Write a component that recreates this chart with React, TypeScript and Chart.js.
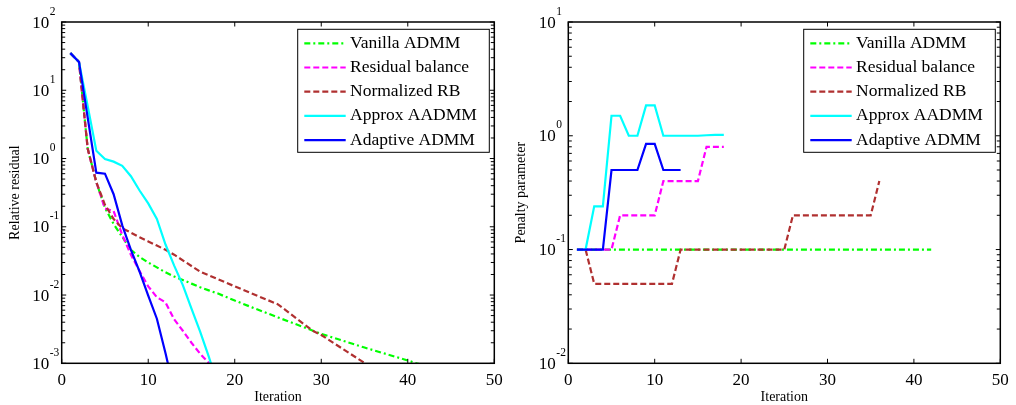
import React, { useEffect, useRef } from 'react';
import { Chart, registerables } from 'chart.js';

Chart.register(...registerables);

// ---------- labels & ticks ----------
const seriesLabels = ['Vanilla ADMM', 'Residual balance', 'Normalized RB', 'Approx AADMM', 'Adaptive ADMM'];
const iterationTicks = [0, 10, 20, 30, 40, 50];

// ---------- left panel: relative residual ----------
const vanillaResIter = [1, 2, 3, 4, 5, 6, 7, 8, 9, 10, 11, 12, 13, 14, 15, 16, 17, 18, 20, 22, 25, 30, 35, 40, 41, 42];
const vanillaResVal = [35, 26, 1.4, 0.45, 0.19, 0.11, 0.071, 0.046, 0.036, 0.03, 0.0254, 0.0215, 0.0187, 0.0166, 0.0147, 0.013, 0.0117, 0.0106, 0.0083, 0.0066, 0.0047, 0.0027, 0.0017, 0.0011, 0.001, 0.00092];

const rbResIter = [1, 2, 3, 4, 5, 6, 7, 8, 9, 10, 11, 12, 13, 14, 15, 16, 17, 18];
const rbResVal = [35, 26, 1.4, 0.45, 0.185, 0.17, 0.076, 0.039, 0.0224, 0.0134, 0.0093, 0.0078, 0.0044, 0.003, 0.002, 0.00138, 0.00101, 0.0007];

const nrbResIter = [1, 2, 3, 4, 5, 6, 7, 8, 9, 10, 11, 12, 13, 16, 20, 23, 25, 29, 30, 35, 36];
const nrbResVal = [35, 26, 1.4, 0.45, 0.21, 0.13, 0.095, 0.082, 0.07, 0.061, 0.053, 0.046, 0.039, 0.022, 0.0134, 0.0093, 0.0073, 0.003, 0.0026, 0.00101, 0.0007];

const approxResIter = [1, 2, 3, 4, 5, 6, 7, 8, 9, 10, 11, 12, 13, 14, 15, 16, 17, 18];
const approxResVal = [35, 26, 5.9, 1.3, 0.98, 0.9, 0.78, 0.55, 0.34, 0.22, 0.13, 0.055, 0.027, 0.014, 0.0063, 0.0029, 0.00125, 0.0005];

const adaptiveResIter = [1, 2, 3, 4, 5, 6, 7, 8, 9, 10, 11, 12, 13];
const adaptiveResVal = [35, 26, 4.0, 0.62, 0.6, 0.3, 0.105, 0.046, 0.022, 0.0098, 0.0045, 0.0014, 0.0004];

// ---------- right panel: penalty parameter ----------
const vanillaPenIter = [1, 42];
const vanillaPenVal = [0.1, 0.1];

const rbPenIter = [1, 5, 6, 10, 11, 15, 16, 18];
const rbPenVal = [0.1, 0.1, 0.2, 0.2, 0.4, 0.4, 0.8, 0.8];

const nrbPenIter = [1, 2, 3, 12, 13, 25, 26, 35, 36];
const nrbPenVal = [0.1, 0.1, 0.05, 0.05, 0.1, 0.1, 0.2, 0.2, 0.4];

const approxPenIter = [1, 2, 3, 4, 5, 6, 7, 8, 9, 10, 11, 15, 16, 17, 18];
const approxPenVal = [0.1, 0.1, 0.24, 0.24, 1.5, 1.5, 1.0, 1.0, 1.85, 1.85, 1.0, 1.0, 1.01, 1.02, 1.02];

const adaptivePenIter = [1, 4, 5, 8, 9, 10, 11, 13];
const adaptivePenVal = [0.1, 0.1, 0.5, 0.5, 0.85, 0.85, 0.5, 0.5];

// ---------- styles ----------
const seriesColors = ['#00ff00', '#ff00ff', '#b03030', '#00ffff', '#0000ff'];
const seriesDashes: number[][] = [[6, 3, 2, 3], [6, 3], [6, 3], [], []];
const seriesDrawOrder = [5, 4, 3, 2, 1];
const FONT = '"Liberation Serif", "Times New Roman", serif';

function buildDatasets(iters: number[][], vals: number[][]) {
  return seriesLabels.map((label, i) => ({
    label,
    data: iters[i].map((x, j) => ({ x, y: vals[i][j] })),
    borderColor: seriesColors[i],
    backgroundColor: seriesColors[i],
    borderDash: seriesDashes[i],
    borderWidth: 2.2,
    borderCapStyle: 'butt',
    borderJoinStyle: 'miter',
    pointRadius: 0,
    pointHoverRadius: 0,
    fill: false,
    tension: 0,
    order: seriesDrawOrder[i],
    clip: 0,
  }));
}

const TICK_LEN = 4.5;

const matlabAxesPlugin = {
  id: 'matlabAxes',
  afterDatasetsDraw(chart: any) {
    const { ctx, chartArea: a, scales } = chart;
    const xs = scales.x;
    const ys = scales.y;
    ctx.save();
    // ticks
    ctx.strokeStyle = '#000';
    ctx.lineWidth = 1;
    ctx.beginPath();
    for (const v of iterationTicks) {
      const px = xs.getPixelForValue(v);
      ctx.moveTo(px, a.bottom);
      ctx.lineTo(px, a.bottom - TICK_LEN);
      ctx.moveTo(px, a.top);
      ctx.lineTo(px, a.top + TICK_LEN);
    }
    const e0 = Math.round(Math.log10(ys.min));
    const e1 = Math.round(Math.log10(ys.max));
    for (let e = e0; e <= e1; e++) {
      for (let m = 1; m <= 9; m++) {
        if (e === e1 && m > 1) break;
        const py = ys.getPixelForValue(m * Math.pow(10, e));
        const len = m === 1 ? TICK_LEN : TICK_LEN - 1;
        ctx.moveTo(a.left, py);
        ctx.lineTo(a.left + len, py);
        ctx.moveTo(a.right, py);
        ctx.lineTo(a.right - len, py);
      }
    }
    ctx.stroke();
    // box
    ctx.lineWidth = 1.5;
    ctx.strokeRect(a.left, a.top, a.right - a.left, a.bottom - a.top);
    // y labels with superscripts
    ctx.fillStyle = '#000';
    for (let e = e0; e <= e1; e++) {
      const py = ys.getPixelForValue(Math.pow(10, e));
      ctx.font = `17px ${FONT}`;
      ctx.textAlign = 'right';
      ctx.textBaseline = 'alphabetic';
      ctx.fillText('10', a.left - 12.5, py + 5.7);
      ctx.font = `11.5px ${FONT}`;
      ctx.textAlign = 'left';
      ctx.fillText(String(e), a.left - 12, py - 7.3);
    }
    // legend
    const bw = 191.6;
    const bh = 123;
    const bx = a.right - 5 - bw;
    const by = a.top + 7.3;
    ctx.fillStyle = '#fff';
    ctx.fillRect(bx, by, bw, bh);
    ctx.strokeStyle = '#000';
    ctx.lineWidth = 1;
    ctx.strokeRect(bx, by, bw, bh);
    chart.data.datasets.forEach((ds: any, i: number) => {
      const ry = by + 14 + i * 24.2;
      ctx.save();
      ctx.strokeStyle = ds.borderColor;
      ctx.lineWidth = ds.borderWidth;
      ctx.setLineDash(ds.borderDash || []);
      ctx.beginPath();
      ctx.moveTo(bx + 6.6, ry);
      ctx.lineTo(bx + 48, ry);
      ctx.stroke();
      ctx.restore();
      ctx.fillStyle = '#000';
      ctx.font = `17.5px ${FONT}`;
      ctx.textAlign = 'left';
      ctx.textBaseline = 'middle';
      ctx.fillText(ds.label, bx + 52.3, ry);
    });
    ctx.restore();
  },
};

type PanelProps = {
  iters: number[][];
  vals: number[][];
  yMin: number;
  yMax: number;
  yTitle: string;
  yAxisWidth: number;
  padRight: number;
  titlePad: number;
};

function Panel({ iters, vals, yMin, yMax, yTitle, yAxisWidth, padRight, titlePad }: PanelProps) {
  const ref = useRef<HTMLCanvasElement | null>(null);
  useEffect(() => {
    if (!ref.current) return;
    const chart = new Chart(ref.current, {
      type: 'line',
      data: { datasets: buildDatasets(iters, vals) as any },
      options: {
        animation: false,
        responsive: false,
        devicePixelRatio: 1,
        events: [],
        layout: { padding: { left: 0, right: padRight, top: 22, bottom: 0 } },
        plugins: { legend: { display: false }, tooltip: { enabled: false } },
        scales: {
          x: {
            type: 'linear',
            min: 0,
            max: 50,
            grid: { display: false },
            border: { display: false },
            ticks: {
              stepSize: 10,
              autoSkip: false,
              maxRotation: 0,
              padding: -0.5,
              color: '#000',
              font: { family: FONT, size: 17 },
            },
            title: {
              display: true,
              text: 'Iteration',
              color: '#000',
              font: { family: FONT, size: 14 },
              padding: { top: 0, bottom: -0.5 },
            },
            afterFit: (s: any) => {
              s.height = 41.7;
            },
          },
          y: {
            type: 'logarithmic',
            min: yMin,
            max: yMax,
            grid: { display: false },
            border: { display: false },
            ticks: { display: false },
            title: {
              display: true,
              text: yTitle,
              color: '#000',
              font: { family: FONT, size: 14 },
              padding: { top: titlePad, bottom: 0 },
            },
            afterFit: (s: any) => {
              s.width = yAxisWidth;
            },
          },
        },
      } as any,
      plugins: [matlabAxesPlugin],
    });
    return () => chart.destroy();
  }, []);
  return <canvas ref={ref} width={508} height={405} style={{ display: 'block', width: 508, height: 405 }} />;
}

export default function App() {
  return (
    <div style={{ position: 'absolute', left: 0, top: 0, width: 1016, height: 405, display: 'flex', background: '#fff' }}>
      <Panel
        iters={[vanillaResIter, rbResIter, nrbResIter, approxResIter, adaptiveResIter]}
        vals={[vanillaResVal, rbResVal, nrbResVal, approxResVal, adaptiveResVal]}
        yMin={1e-3}
        yMax={1e2}
        yTitle="Relative residual"
        yAxisWidth={61.7}
        padRight={13.7}
        titlePad={6.6}
      />
      <Panel
        iters={[vanillaPenIter, rbPenIter, nrbPenIter, approxPenIter, adaptivePenIter]}
        vals={[vanillaPenVal, rbPenVal, nrbPenVal, approxPenVal, adaptivePenVal]}
        yMin={1e-2}
        yMax={1e1}
        yTitle="Penalty parameter"
        yAxisWidth={60.3}
        padRight={15.7}
        titlePad={5.3}
      />
    </div>
  );
}
